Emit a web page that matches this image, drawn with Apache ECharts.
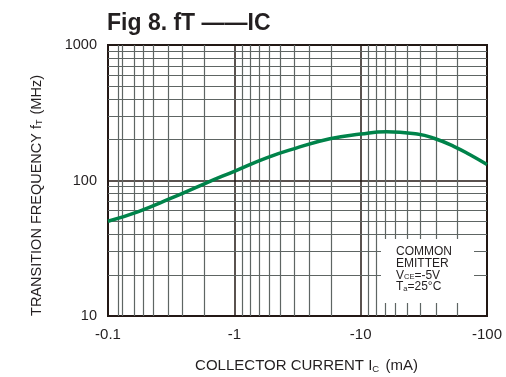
<!DOCTYPE html>
<html>
<head>
<meta charset="utf-8">
<script src="https://cdn.jsdelivr.net/npm/echarts@6/dist/echarts.min.js"></script>
<style>
html,body{margin:0;padding:0;background:#fff;}
#c{width:506px;height:377px;}
</style>
</head>
<body>
<div id="c"></div>
<script>
// Collector current magnitude (mA), axis shows negative values
var currentMA = [0.1, 0.174, 0.316, 0.585, 1, 1.8, 3, 5.7, 10, 16, 28, 38, 55, 74, 100];
// Transition frequency fT (MHz)
var freqMHz   = [50, 59, 74, 95, 117, 147, 172, 203, 220, 229, 220, 205, 178, 154, 131];
var xTickLabels = ['-0.1', '-1', '-10', '-100'];
var yTickLabels = ['10', '100', '1000'];
var xDecades = [0.1, 1, 10];
var yDecades = [10, 100];
// relative positions of minor grid lines inside an x decade (as drawn in the reference)
var xMinorFrac = [0.062, 0.127, 0.195, 0.275, 0.368, 0.471, 0.596, 0.767];
var yMinorMult = [2, 3, 4, 5, 6, 7, 8, 9];
var noteLines = ['COMMON', 'EMITTER', 'V{s|CE}=-5V', 'T{s|a}=25°C'];

var xMinor = [];
xDecades.forEach(function (d) {
  xMinorFrac.forEach(function (f) { xMinor.push(d * Math.pow(10, f)); });
});
var yMinor = [];
yDecades.forEach(function (d) {
  yMinorMult.forEach(function (m) { yMinor.push(d * m); });
});

var gridLineData = [];
xMinor.forEach(function (v) { gridLineData.push({ xAxis: v }); });
yMinor.forEach(function (v) { gridLineData.push({ yAxis: v }); });

var font = 'Liberation Sans, Arial, sans-serif';
var dark = '#231815';

var chart = echarts.init(document.getElementById('c'), null, { renderer: 'canvas' });
chart.setOption({
  animation: false,
  backgroundColor: '#ffffff',
  title: {
    text: 'Fig 8. fT \u2014\u2014IC',
    left: 102,
    top: 7,
    textStyle: { fontFamily: font, fontWeight: 'bold', fontSize: 23, color: '#231f20' }
  },
  grid: {
    left: 108, right: 19, top: 45, bottom: 61,
    containLabel: false,
    outerBoundsMode: 'none',
    show: true, borderColor: dark, borderWidth: 2, backgroundColor: 'transparent'
  },
  xAxis: {
    type: 'log',
    logBase: 10,
    min: 0.1,
    max: 100,
    name: 'COLLECTOR CURRENT I{s|C} (mA)',
    nameLocation: 'middle',
    nameGap: 42,
    nameTextStyle: {
      fontFamily: font, fontSize: 15, color: '#231f20', padding: [0, 0, 0, 18],
      rich: { s: { fontFamily: font, fontSize: 9.5, color: '#231f20', padding: [6, 2, 0, 0] } }
    },
    axisLine: { show: true, lineStyle: { color: dark, width: 2 } },
    axisTick: { show: false },
    axisLabel: {
      fontFamily: font, fontSize: 15, color: '#231f20', margin: 11,
      formatter: function (v) {
        var i = Math.round(Math.log(v) / Math.LN10) + 1;
        return xTickLabels[i] || '';
      }
    },
    splitLine: { show: true, lineStyle: { color: dark, width: 1.5 } }
  },
  yAxis: {
    type: 'log',
    logBase: 10,
    min: 10,
    max: 1000,
    name: 'TRANSITION FREQUENCY f{s|T} (MHz)',
    nameLocation: 'middle',
    nameGap: 64,
    nameTextStyle: {
      fontFamily: font, fontSize: 14.5, color: '#231f20', padding: [0, 30, 0, 0],
      rich: { s: { fontFamily: font, fontSize: 9, color: '#231f20', padding: [6, 1, 0, 0] } }
    },
    axisLine: { show: true, lineStyle: { color: dark, width: 2 } },
    axisTick: { show: false },
    axisLabel: {
      fontFamily: font, fontSize: 14.5, color: '#231f20', margin: 11,
      formatter: function (v) {
        var i = Math.round(Math.log(v) / Math.LN10) - 1;
        return yTickLabels[i] || '';
      }
    },
    splitLine: { show: true, lineStyle: { color: dark, width: 1.5 } }
  },
  series: [
    {
      type: 'line',
      data: [],
      silent: true,
      z: 1,
      markLine: {
        silent: true,
        symbol: ['none', 'none'],
        label: { show: false },
        emphasis: { disabled: true },
        lineStyle: { type: 'solid', color: '#5e6563', width: 1.2 },
        data: gridLineData
      }
    },
    {
      type: 'line',
      z: 5,
      smooth: true,
      showSymbol: false,
      symbol: 'none',
      lineStyle: { color: '#00834a', width: 3.5 },
      data: currentMA.map(function (x, i) { return [x, freqMHz[i]]; })
    }
  ],
  graphic: [
    {
      type: 'rect',
      z: 50,
      shape: { x: 381, y: 239, width: 93, height: 64 },
      style: { fill: '#ffffff' }
    },
    {
      type: 'text',
      z: 51,
      left: 396,
      top: 246,
      style: {
        text: noteLines.join('\n'),
        fontFamily: font,
        fontSize: 12,
        lineHeight: 11.7,
        fill: '#231f20',
        rich: { s: { fontFamily: font, fontSize: 7.5, fill: '#231f20', padding: [3, 0, 0, 0] } }
      }
    }
  ]
});
</script>
</body>
</html>
